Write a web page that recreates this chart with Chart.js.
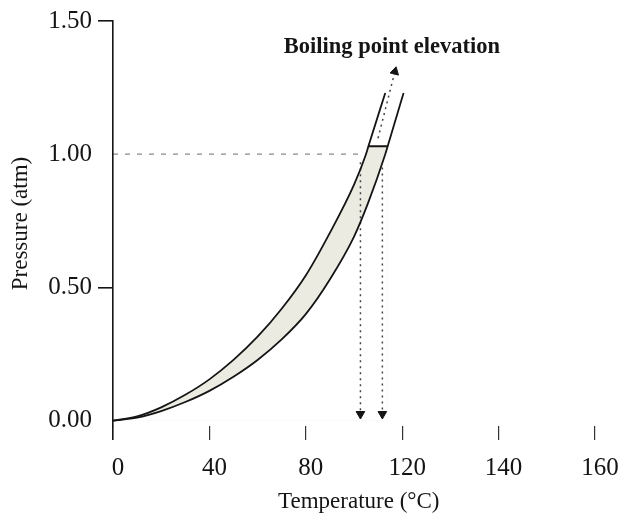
<!DOCTYPE html>
<html>
<head>
<meta charset="utf-8">
<script src="https://cdn.jsdelivr.net/npm/chart.js@4/dist/chart.umd.min.js"></script>
<style>
  html, body { margin: 0; padding: 0; background: #fff; }
  #wrap { width: 627px; height: 517px; }
</style>
</head>
<body>
<div id="wrap"><canvas id="chartCanvas"></canvas></div>
<script>
// Vapour pressure of pure solvent and of a solution
const solventTemp = [0, 10, 20, 30, 40, 50, 60, 70, 80, 90, 100, 105, 106, 113];
const solventPres = [0, 0.016, 0.05, 0.097, 0.155, 0.228, 0.315, 0.42, 0.545, 0.705, 0.885, 1.0, 1.03, 1.23];
const solutionTemp = [0, 10, 20, 30, 40, 50, 60, 70, 80, 90, 100, 106, 113, 114, 120.6];
const solutionPres = [0, 0.011, 0.036, 0.07, 0.112, 0.165, 0.228, 0.305, 0.40, 0.53, 0.69, 0.82, 1.0, 1.03, 1.23];

// boiling points at 1 atm (solvent, solution) and the arrow ends
const boilingTemps = [102.7, 111.8];
const boilingPressure = 1.0;
const bandTop = 1.03;
const dropStart = [0.97, 0.95];
const dropEnd = 0.025;
const elevationArrowT = [110, 117];
const elevationArrowP = [1.06, 1.31];

// axis ticks (the original figure labels the last three 120, 140, 160)
const xTickValues = [0, 40, 80, 120, 160, 200];
const xTickLabels = ['0', '40', '80', '120', '140', '160'];
const yTickValues = [0, 0.5, 1.0, 1.5];

const toPoints = (xs, ys) => xs.map((x, i) => ({ x: x, y: ys[i] }));
const solventPts = toPoints(solventTemp, solventPres);
const solutionPts = toPoints(solutionTemp, solutionPres);
const solventBand = solventPts.filter(p => p.y <= bandTop);
const solutionBand = solutionPts.filter(p => p.y <= bandTop);
const boxCorner = solutionBand[solutionBand.length - 1];

const serif = '"Liberation Serif", "DejaVu Serif", serif';
const ink = '#151515';

const labelPlugin = {
  id: 'bpLabel',
  afterDraw(chart) {
    const ctx = chart.ctx;
    const x = chart.scales.x.getPixelForValue(elevationArrowT[1]);
    const y = chart.scales.y.getPixelForValue(elevationArrowP[1]);
    ctx.save();
    ctx.font = 'bold 22.5px ' + serif;
    ctx.fillStyle = ink;
    ctx.textAlign = 'center';
    ctx.textBaseline = 'middle';
    ctx.fillText('Boiling point elevation', x - 3, y - 24);
    ctx.restore();
  }
};

const curve = (pts) => ({
  data: pts,
  borderColor: ink,
  borderWidth: 1.8,
  pointRadius: 0,
  cubicInterpolationMode: 'monotone',
  fill: false,
  order: 0
});

const arrowLine = (pts, rot) => ({
  data: pts,
  borderColor: '#444',
  borderWidth: 1.5,
  borderDash: [2, 4],
  pointStyle: 'triangle',
  pointRadius: [0, 5],
  pointRotation: rot,
  pointBackgroundColor: ink,
  pointBorderColor: ink,
  pointBorderWidth: 1,
  tension: 0,
  order: 1
});

document.addEventListener('DOMContentLoaded', function() {
  const ctx = document.getElementById('chartCanvas').getContext('2d');
  new Chart(ctx, {
    type: 'line',
    data: {
      datasets: [
        curve(solventPts),
        curve(solutionPts),
        {
          // gray under the solvent curve and the band top
          data: solventBand.concat([boxCorner]),
          borderWidth: 0,
          backgroundColor: '#ebebe2',
          pointRadius: 0,
          cubicInterpolationMode: 'monotone',
          fill: 'origin',
          order: 5
        },
        {
          // white under the solution curve leaves only the band shaded
          data: solutionBand,
          borderWidth: 0,
          backgroundColor: '#ffffff',
          pointRadius: 0,
          cubicInterpolationMode: 'monotone',
          fill: 'origin',
          order: 4
        },
        {
          // top of the band at about 1 atm
          data: [solventBand[solventBand.length - 1], boxCorner],
          borderColor: ink,
          borderWidth: 2,
          pointRadius: 0,
          order: 0
        },
        {
          // 1.00 atm guide
          data: [{ x: 0, y: boilingPressure }, { x: solventTemp[11], y: boilingPressure }],
          borderColor: '#8a8a8a',
          borderWidth: 1.3,
          borderDash: [5, 7],
          pointRadius: 0,
          order: 2
        },
        arrowLine([{ x: boilingTemps[0], y: dropStart[0] }, { x: boilingTemps[0], y: dropEnd }], 180),
        arrowLine([{ x: boilingTemps[1], y: dropStart[1] }, { x: boilingTemps[1], y: dropEnd }], 180),
        arrowLine(toPoints(elevationArrowT, elevationArrowP), 14)
      ]
    },
    options: {
      responsive: true,
      maintainAspectRatio: false,
      animation: false,
      layout: { padding: { top: 21, right: 19, left: 0, bottom: 0 } },
      plugins: {
        legend: { display: false },
        tooltip: { enabled: false }
      },
      scales: {
        x: {
          type: 'linear',
          min: 0,
          max: 204,
          afterBuildTicks: function(axis) {
            axis.ticks = xTickValues.map(v => ({ value: v }));
          },
          afterFit: function(axis) { axis.height = 91; },
          border: { display: false },
          grid: {
            drawOnChartArea: false,
            drawTicks: true,
            tickLength: 14,
            color: c => (c.tick && c.tick.value === 0) ? ink : '#333',
            lineWidth: c => (c.tick && c.tick.value === 0) ? 1.6 : 1.2
          },
          ticks: {
            padding: 13,
            labelOffset: 5,
            color: ink,
            font: { family: serif, size: 25 },
            maxRotation: 0,
            callback: function(value) {
              const i = xTickValues.indexOf(value);
              return i >= 0 ? xTickLabels[i] : '';
            }
          },
          title: {
            display: true,
            text: 'Temperature (°C)',
            color: ink,
            font: { family: serif, size: 23 },
            padding: { top: 0, bottom: 1 }
          }
        },
        y: {
          type: 'linear',
          min: -0.02,
          max: 1.5,
          afterBuildTicks: function(axis) {
            axis.ticks = yTickValues.map(v => ({ value: v }));
          },
          afterFit: function(axis) { axis.width = 113; },
          border: { display: true, color: ink, width: 1.6, z: 1 },
          grid: {
            drawOnChartArea: false,
            drawTicks: true,
            tickLength: 15,
            color: c => (c.tick && (c.tick.value === 0.5 || c.tick.value === 1.5)) ? ink : 'rgba(0,0,0,0)',
            lineWidth: 1.6
          },
          ticks: {
            padding: 6,
            color: ink,
            font: { family: serif, size: 25 },
            callback: v => Number(v).toFixed(2)
          },
          title: {
            display: true,
            text: 'Pressure (atm)',
            color: ink,
            font: { family: serif, size: 23 },
            padding: { top: 7, bottom: 0 }
          }
        }
      }
    },
    plugins: [labelPlugin]
  });
});
</script>
</body>
</html>
